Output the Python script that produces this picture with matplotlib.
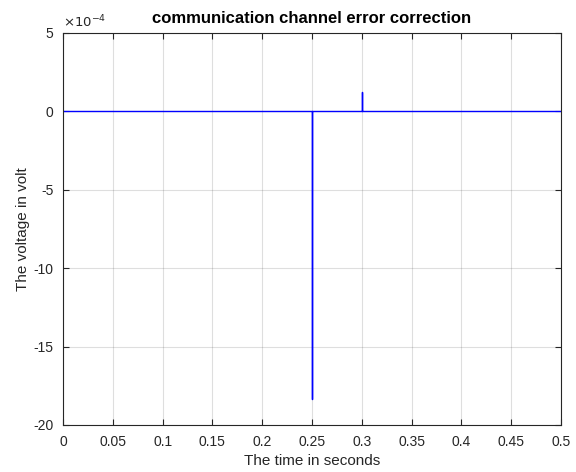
import matplotlib
matplotlib.use("Agg")
import matplotlib.pyplot as plt
from matplotlib.ticker import FuncFormatter

plt.rcParams['font.family'] = ['Liberation Sans', 'DejaVu Sans']

# data (time in s, voltage in V)
t = [0.0, 0.25, 0.25, 0.25, 0.30, 0.30, 0.30, 0.5]
v = [0.0, 0.0, -18.35e-4, 0.0, 0.0, 1.25e-4, 0.0, 0.0]

xticks = [0, 0.05, 0.1, 0.15, 0.2, 0.25, 0.3, 0.35, 0.4, 0.45, 0.5]
xticklabels = ['0', '0.05', '0.1', '0.15', '0.2', '0.25', '0.3', '0.35', '0.4', '0.45', '0.5']
yticks = [-20e-4, -15e-4, -10e-4, -5e-4, 0, 5e-4]

fig = plt.figure(figsize=(5.76, 4.72), dpi=100)
ax = fig.add_axes([63/576, 47/472, 498/576, 392/472])
ax.plot(t, v, color='#0000ff', linewidth=1.0)
ax.set_xlim(0, 0.5)
ax.set_ylim(-20e-4, 5e-4)
ax.set_xticks(xticks)
ax.set_xticklabels(xticklabels)
ax.set_yticks(yticks)
ax.yaxis.set_major_formatter(FuncFormatter(lambda y, p: f"{round(y*1e4):g}"))
ax.grid(True, color='#262626', alpha=0.15, linewidth=0.8)
ax.tick_params(direction='in', top=True, right=True, length=4, width=0.8,
               colors='#262626', labelsize=10, labelcolor='#262626')
ax.tick_params(axis='x', pad=7)
ax.tick_params(axis='y', pad=7)
for s in ax.spines.values():
    s.set_color('#262626')
    s.set_linewidth(0.8)
ax.set_xlabel('The time in seconds', fontsize=11, color='#262626', labelpad=4)
ax.set_ylabel('The voltage in volt', fontsize=11, color='#262626', labelpad=2)
ax.set_title('communication channel error correction', fontsize=12, fontweight='bold',
             color='black', pad=7)
ax.text(0.0, 1.006, r'$\times10^{-4}$', transform=ax.transAxes, fontsize=9.5,
        color='#262626', ha='left', va='bottom')
fig.savefig('out.png', dpi=100)
